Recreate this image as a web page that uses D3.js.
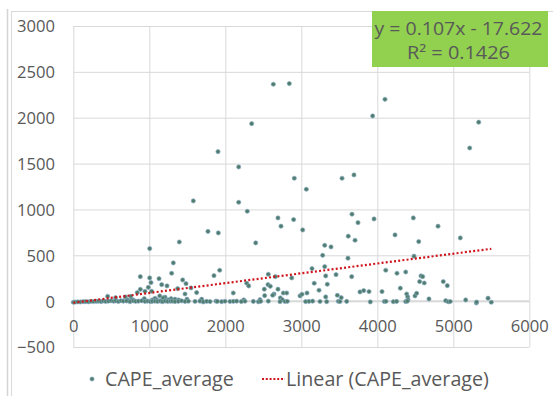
<!DOCTYPE html>
<html>
<head>
<meta charset="utf-8">
<script src="https://cdn.jsdelivr.net/npm/d3@7"></script>
<style>
  html, body { margin: 0; padding: 0; background: #ffffff; }
  svg { display: block; font-family: "Open Sans", "Noto Sans", sans-serif; }
</style>
</head>
<body>
<svg id="chart" width="553" height="396"></svg>
<script>
// Scatter points (x, CAPE_average) above the zero band
const raisedPoints = [
  [2632,2365],[2842,2372],[2347,1935],[1904,1630],[2176,1463],[3939,2019],[4101,2201],
  [5334,1951],[5216,1670],[1579,1093],[2176,1078],[2289,980],[2908,1340],[3066,1220],
  [3536,1340],[3693,1376],[2693,907],[2899,889],[2733,817],[3018,776],[3667,948],
  [3746,856],[3957,896],[4474,907],[4799,817],[1772,760],[1908,744],[5092,689],
  [4545,649],[2400,635],[3308,609],[3391,591],[3281,500],[3618,708],[3707,664],
  [4233,722],[3614,468],[4483,490],[1395,645],[1005,573]
];
const lowPoints = [
  [1316,417],[1294,304],[882,267],[1005,253],[1128,245],[1022,202],[1163,180],[1233,166],
  [1439,231],[1483,191],[882,129],[987,151],[943,107],[842,93],[1031,108],[1373,137],
  [1549,144],[1623,93],[452,53],[557,38],[684,46],[755,53],[789,13],[934,27],[1075,31],
  [1137,57],[1207,43],[1286,27],[1338,21],[1470,78],[716,13],[768,13],[1040,13],[1097,13],
  [1180,35],[1250,13],[1386,13],[1496,21],[1689,21],
  [1851,278],[1926,337],[2282,195],[2308,166],[2566,293],[2658,267],[2874,253],[3141,355],
  [3308,376],[3321,275],[3170,195],[3342,184],[3457,289],[2562,180],[2592,162],[2513,130],
  [2693,130],[2641,78],[2623,64],[2518,60],[2105,89],[2763,89],[2808,89],[2724,35],
  [2750,16],[2983,57],[3009,75],[3075,89],[3233,119],[3321,46],[3474,64],[2242,13],[2457,16],
  [3663,267],[4111,337],[4259,304],[4374,318],[4575,275],[4597,267],[4618,198],[4557,213],
  [4868,213],[4921,169],[4303,141],[3526,38],[3772,100],[3821,115],[3891,104],[4062,104],
  [4387,78],[4400,46],[4404,16],[4496,57],[4518,86],[4680,24],[4900,5],[5163,13],[5457,32],
  [5500,-12],[5303,-20]
];
// Points sitting on the zero band
const zeroBandX = [
  0,23,58,93,132,163,198,233,268,303,330,365,395,426,461,496,531,558,593,628,
  659,702,746,790,821,856,900,944,979,1014,1040,1075,1110,1145,1172,1207,1242,1277,1303,1338,
  1382,1426,1470,1514,1602,1667,1711,1755,1799,1878,1895,1952,1996,2062,2106,2149,2211,2259,2369,2435,
  2465,2566,2720,2785,2816,3057,3101,3149,3246,3334,3487,3509,3597,3908,4092,4114,4211,4254,4373,4395,
  4934,4960,5307
];
const zeroBandY = [
  -12,-10,-8,-9,-6,-5,-7,-3,-4,-2,0,-5,2,-3,0,4,-1,3,-4,5,
  0,2,-6,3,-2,0,4,-3,1,-5,-2,0,-4,2,-6,1,-3,-1,0,-5,
  -2,3,-4,-1,-3,0,-8,-2,-5,0,-3,-6,-1,-4,-2,0,-5,-1,-3,-7,
  -2,0,-6,-4,-2,-5,-3,0,-4,-6,-2,-5,-3,-8,-4,-2,-6,-3,-5,0,
  -7,-4,-10
];

const xTicks = [0, 1000, 2000, 3000, 4000, 5000, 6000];
const yTicks = [-500, 0, 500, 1000, 1500, 2000, 2500, 3000];

// Linear trend: y = slope * x + intercept
const trendSlope = 0.107;
const trendIntercept = -17.622;
const trendLabel = ["y = 0.107x - 17.622", "R² = 0.1426"];
const trendLabelWidths = [168, 103];
const seriesName = "CAPE_average";
const trendName = "Linear (CAPE_average)";

const points = raisedPoints.concat(lowPoints)
  .concat(zeroBandX.map((x, i) => [x, zeroBandY[i]]));

const svg = d3.select("#chart");
const plot = { left: 73.3, right: 529.3, top: 26, bottom: 347 };

const x = d3.scaleLinear().domain([0, 6000]).range([plot.left, plot.right]);
const y = d3.scaleLinear().domain([-500, 3000]).range([plot.bottom, plot.top]);

// Chart frame
svg.append("line").attr("x1", 7.5).attr("x2", 7.5).attr("y1", 9).attr("y2", 396)
  .attr("stroke", "#d4d4d4").attr("stroke-width", 1.5);
svg.append("rect").attr("x", 11.5).attr("y", 11.5).attr("width", 560).attr("height", 400)
  .attr("fill", "none").attr("stroke", "#d9d9d9").attr("stroke-width", 1);

// Gridlines
const gridY = svg.append("g").attr("transform", `translate(${plot.left},0)`)
  .call(d3.axisLeft(y).tickValues(yTicks).tickSize(-(plot.right - plot.left)).tickFormat(""));
gridY.select(".domain").remove();
gridY.selectAll("line").attr("stroke", "#d9d9d9").attr("stroke-width", 1);

const gridX = svg.append("g").attr("transform", `translate(0,${plot.bottom})`)
  .call(d3.axisBottom(x).tickValues(xTicks).tickSize(-(plot.bottom - plot.top)).tickFormat(""));
gridX.select(".domain").remove();
gridX.selectAll("line").attr("stroke", "#d9d9d9").attr("stroke-width", 1);

// Horizontal axis line at zero
svg.append("line")
  .attr("x1", plot.left).attr("x2", plot.right)
  .attr("y1", y(0)).attr("y2", y(0))
  .attr("stroke", "#d9d9d9").attr("stroke-width", 2);

// Tick labels
const yAxis = svg.append("g").attr("transform", "translate(55,0)")
  .call(d3.axisLeft(y).tickValues(yTicks).tickSize(0).tickPadding(0).tickFormat(d3.format("d")));
yAxis.select(".domain").remove();
yAxis.selectAll("text").attr("fill", "#595959").attr("font-size", 16.6)
  .attr("font-family", "Open Sans, sans-serif").attr("dy", "0.36em");

const xAxis = svg.append("g").attr("transform", `translate(0,${y(0)})`)
  .call(d3.axisBottom(x).tickValues(xTicks).tickSize(0).tickPadding(0).tickFormat(d3.format("d")));
xAxis.select(".domain").remove();
xAxis.selectAll("text").attr("fill", "#595959").attr("font-size", 16.6)
  .attr("font-family", "Open Sans, sans-serif").attr("dy", "1.84em");

// Scatter markers
svg.append("g").selectAll("circle").data(points).join("circle")
  .attr("cx", d => x(d[0])).attr("cy", d => y(d[1])).attr("r", 2.1)
  .attr("fill", "#4f7d68").attr("stroke", "#86a9c6").attr("stroke-width", 0.7);

// Trend line across the data's x range
const xMin = d3.min(points, d => d[0]);
const xMax = d3.max(points, d => d[0]);
svg.append("line")
  .attr("x1", x(xMin)).attr("y1", y(trendSlope * xMin + trendIntercept))
  .attr("x2", x(xMax)).attr("y2", y(trendSlope * xMax + trendIntercept))
  .attr("stroke", "#d0141c").attr("stroke-width", 2.2).attr("stroke-dasharray", "2,2.2");

// Equation box
svg.append("rect").attr("x", 372).attr("y", 11).attr("width", 176).attr("height", 56)
  .attr("fill", "#92d050");
svg.append("g").selectAll("text").data(trendLabel).join("text")
  .attr("x", 458.5).attr("y", (d, i) => 35 + i * 24)
  .attr("text-anchor", "middle").attr("fill", "#595959").attr("font-size", 17.5)
  .attr("textLength", (d, i) => trendLabelWidths[i]).attr("lengthAdjust", "spacingAndGlyphs")
  .text(d => d);

// Legend
const legend = svg.append("g");
legend.append("circle").attr("cx", 92).attr("cy", 379).attr("r", 2.1)
  .attr("fill", "#4f7d68").attr("stroke", "#86a9c6").attr("stroke-width", 0.7);
legend.append("text").attr("x", 105).attr("y", 385.5).attr("fill", "#595959")
  .attr("font-size", 19.7).text(seriesName);
legend.append("line").attr("x1", 262).attr("x2", 285).attr("y1", 379).attr("y2", 379)
  .attr("stroke", "#d0141c").attr("stroke-width", 2).attr("stroke-dasharray", "2,1.8");
legend.append("text").attr("x", 286).attr("y", 385.5).attr("fill", "#595959")
  .attr("font-size", 19.7).text(trendName);
</script>
</body>
</html>
